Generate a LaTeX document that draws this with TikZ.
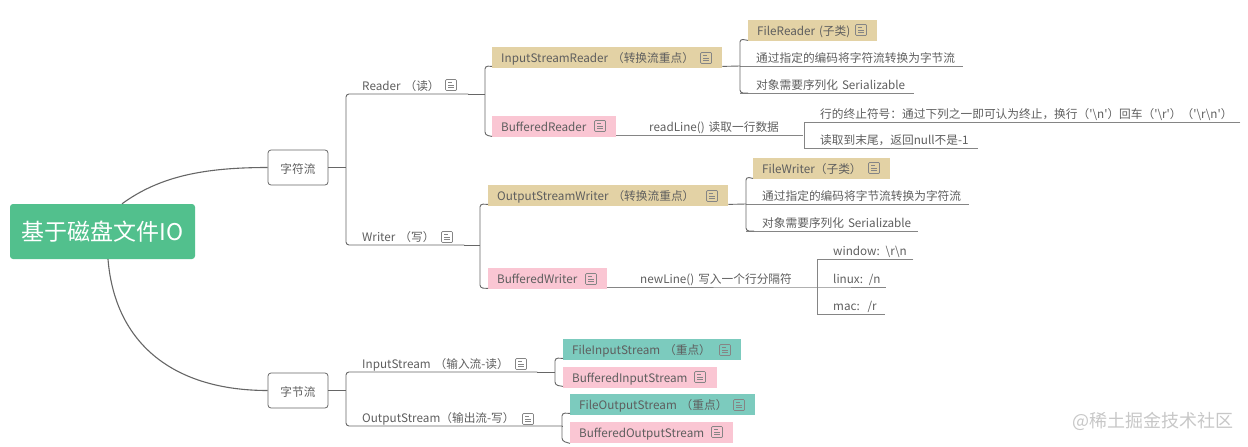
\documentclass[tikz,border=0pt]{standalone}
\usepackage{fontspec}
\setmainfont{Noto Sans CJK SC}[Ligatures=TeXOff]
\definecolor{rootgreen}{HTML}{52C08D}
\definecolor{tagtan}{HTML}{E3D2A5}
\definecolor{tagpink}{HTML}{FAC6D3}
\definecolor{tagteal}{HTML}{7CCBBE}
\definecolor{inkgray}{HTML}{5E5E5E}
\definecolor{linegray}{HTML}{666666}
\definecolor{leafgray}{HTML}{858585}
\tikzset{
  rootbox/.style={fill=rootgreen, rounded corners=3pt, text=white, minimum width=185pt, minimum height=55pt, inner sep=0pt, font=\fontsize{23}{26}\selectfont},
  topicbox/.style={draw=linegray, fill=white, rounded corners=3pt, line width=0.8pt, minimum width=60pt, minimum height=35pt, inner sep=0pt},
  tagbox/.style={anchor=north west, inner xsep=9pt, inner ysep=4.5pt, align=left, text width=#1, text height=10.5pt, text depth=1.5pt},
  leafnode/.style={anchor=south west, inner xsep=2pt, inner ysep=3pt, align=left, text width=#1, execute at begin node={\hspace*{14pt}}},
  stem/.style={draw=linegray, line width=0.9pt, rounded corners=3pt},
  under/.style={draw=leafgray, line width=0.8pt},
  mainline/.style={draw=linegray, line width=1.1pt},
  noteicon/.pic={
    \draw[leafgray, line width=0.7pt, rounded corners=1pt] (-5.5,-5.5) rectangle (5.5,5.5);
    \draw[leafgray, line width=0.7pt] (-3,-2.5) -- (0.5,-2.5) (-3,0) -- (3,0) (-3,2.5) -- (3,2.5);
  }
}
\begin{document}
\begin{tikzpicture}[x=1pt, y=-1pt, font=\fontsize{11.7}{14}\selectfont, text=inkgray, text height=12pt, text depth=0pt]
  \useasboundingbox (0,0) rectangle (1248,447);

  \node[rootbox, text height=, text depth=] (root) at (102.5,231.5) {基于磁盘文件IO};
  \node[topicbox] (charflow) at (298,167.5) {字符流};
  \node[topicbox] (byteflow) at (298,390.5) {字节流};

  \draw[mainline] ([xshift=19.5pt]root.north) .. controls (160,176) and (205,167.5) .. (charflow.west);
  \draw[mainline] ([xshift=5.5pt]root.south) .. controls (115,345) and (175,390.5) .. (byteflow.west);

  % 字符流
  \node[leafnode=118pt] (reader) at (346,94) {Reader （读）};
  \node[leafnode=114pt] (writer) at (346,245) {Writer （写）};
  \coordinate (charhub) at (346,167.5);
  \draw[stem] (reader.south east) -- (reader.south west) -- (writer.south west) -- (writer.south east);
  \draw[stem] (charflow.east) -- (charhub);
  \pic at (451,85) {noteicon};
  \pic at (447,237) {noteicon};

  \node[tagbox=212pt, fill=tagtan] (isr) at (492,47) {InputStreamReader （转换流重点）};
  \node[tagbox=106pt, fill=tagpink] (brd) at (492,116) {BufferedReader};
  \draw[stem] (reader.south east) -- (485,94);
  \draw[stem] ([yshift=2pt]isr.south west) -- (485,66) -- (485,135) -- ([yshift=1pt]brd.south west);
  \pic at (706,58) {noteicon};
  \pic at (600,126) {noteicon};

  \node[tagbox=111pt, fill=tagtan] (frd) at (748,20) {FileReader (子类)};
  \node[leafnode=219pt] (encr) at (740,66) {通过指定的编码将字符流转换为字节流};
  \node[leafnode=170pt] (serr) at (740,93) {\mbox{对象需要序列化 Serializable}};
  \draw[under] (encr.south west) -- (encr.south east);
  \draw[under] (serr.south west) -- (serr.south east);
  \draw[stem] ([yshift=2pt]isr.south east) -- (encr.south west);
  \draw[stem] ([yshift=1pt]frd.south west) -- (740,39) -- (serr.south west) -- ([xshift=8pt]serr.south west);
  \pic at (861,30) {noteicon};

  \node[leafnode=183pt] (readline) at (616,135) {\hspace*{17pt}readLine() 读取一行数据};
  \node[leafnode=432pt] (eol) at (804,122) {\mbox{行的终止符号：通过下列之一即可认为终止，换行（'\textbackslash n'）回车（'\textbackslash r'）（'\textbackslash r\textbackslash n'）}};
  \node[leafnode=170pt] (eof) at (804,148) {\mbox{读取到末尾，返回null不是-1}};
  \draw[under] (readline.south west) -- (readline.south east);
  \draw[under] (eol.south east) -- (eol.south west) -- (eof.south west) -- (eof.south east);

  \node[tagbox=222pt, fill=tagtan] (osw) at (488,185) {OutputStreamWriter （转换流重点）};
  \node[tagbox=101pt, fill=tagpink] (bwr) at (488,268) {BufferedWriter};
  \draw[stem] (writer.south east) -- (480,245);
  \draw[stem] ([yshift=2pt]osw.south west) -- (480,204) -- (480,288) -- ([yshift=1pt]bwr.south west);
  \pic at (712,196) {noteicon};
  \pic at (591,279) {noteicon};

  \node[tagbox=119pt, fill=tagtan] (fwr) at (753,158) {FileWriter（子类）};
  \node[leafnode=219pt] (encw) at (746,204) {通过指定的编码将字节流转换为字符流};
  \node[leafnode=168pt] (serw) at (746,231) {\mbox{对象需要序列化 Serializable}};
  \draw[under] (encw.south west) -- (encw.south east);
  \draw[under] (serw.south west) -- (serw.south east);
  \draw[stem] ([yshift=2pt]osw.south east) -- (encw.south west);
  \draw[stem] ([yshift=1pt]fwr.south west) -- (746,177) -- (serw.south west) -- ([xshift=8pt]serw.south west);
  \pic at (874,168) {noteicon};

  \node[leafnode=206pt] (newline) at (607,287) {\hspace*{17pt}newLine() 写入一个行分隔符};
  \node[leafnode=92pt] (win) at (817,259) {\mbox{window: \textbackslash r\textbackslash n}};
  \node[leafnode=65pt] (linux) at (817,287) {\mbox{linux: /n}};
  \node[leafnode=64pt] (mac) at (817,314) {\mbox{mac:~~/r}};
  \draw[under] (newline.south west) -- (newline.south east) -- (linux.south west) -- (linux.south east);
  \draw[under] (win.south east) -- (win.south west) -- (mac.south west) -- (mac.south east);

  % 字节流
  \node[leafnode=187pt] (instream) at (346,372) {InputStream （输入流-读）};
  \node[leafnode=212pt] (outstream) at (346,426) {OutputStream（输出流-写）};
  \coordinate (bytehub) at (346,390.5);
  \draw[stem] (instream.south east) -- (instream.south west) -- (outstream.south west) -- (outstream.south east);
  \draw[stem] (byteflow.east) -- (bytehub);
  \pic at (521,364) {noteicon};
  \pic at (528,419) {noteicon};

  \node[tagbox=160pt, fill=tagteal] (fis) at (563,339) {FileInputStream （重点）};
  \node[tagbox=136pt, fill=tagpink] (bis) at (563,367) {BufferedInputStream};
  \node[tagbox=167pt, fill=tagteal] (fos) at (570,394) {FileOutputStream （重点）};
  \node[tagbox=145pt, fill=tagpink] (bos) at (570,422) {BufferedOutputStream};
  \draw[stem] (instream.south east) -- (555,372);
  \draw[stem] ([yshift=2pt]fis.south west) -- (555,358) -- (555,385) -- ([yshift=2pt]bis.south west);
  \draw[stem] (outstream.south east) -- (562,426);
  \draw[stem] ([yshift=2pt]fos.south west) -- (562,413) -- (562,441) -- (bos.south west);
  \pic at (725,350) {noteicon};
  \pic at (700,377) {noteicon};
  \pic at (739,405) {noteicon};
  \pic at (717,432) {noteicon};

  \node[anchor=west, inner sep=0pt, text=black!22, text height=, text depth=, font=\fontsize{18}{20}\selectfont] (mark) at (1072,421) {@稀土掘金技术社区};
\end{tikzpicture}
\end{document}
